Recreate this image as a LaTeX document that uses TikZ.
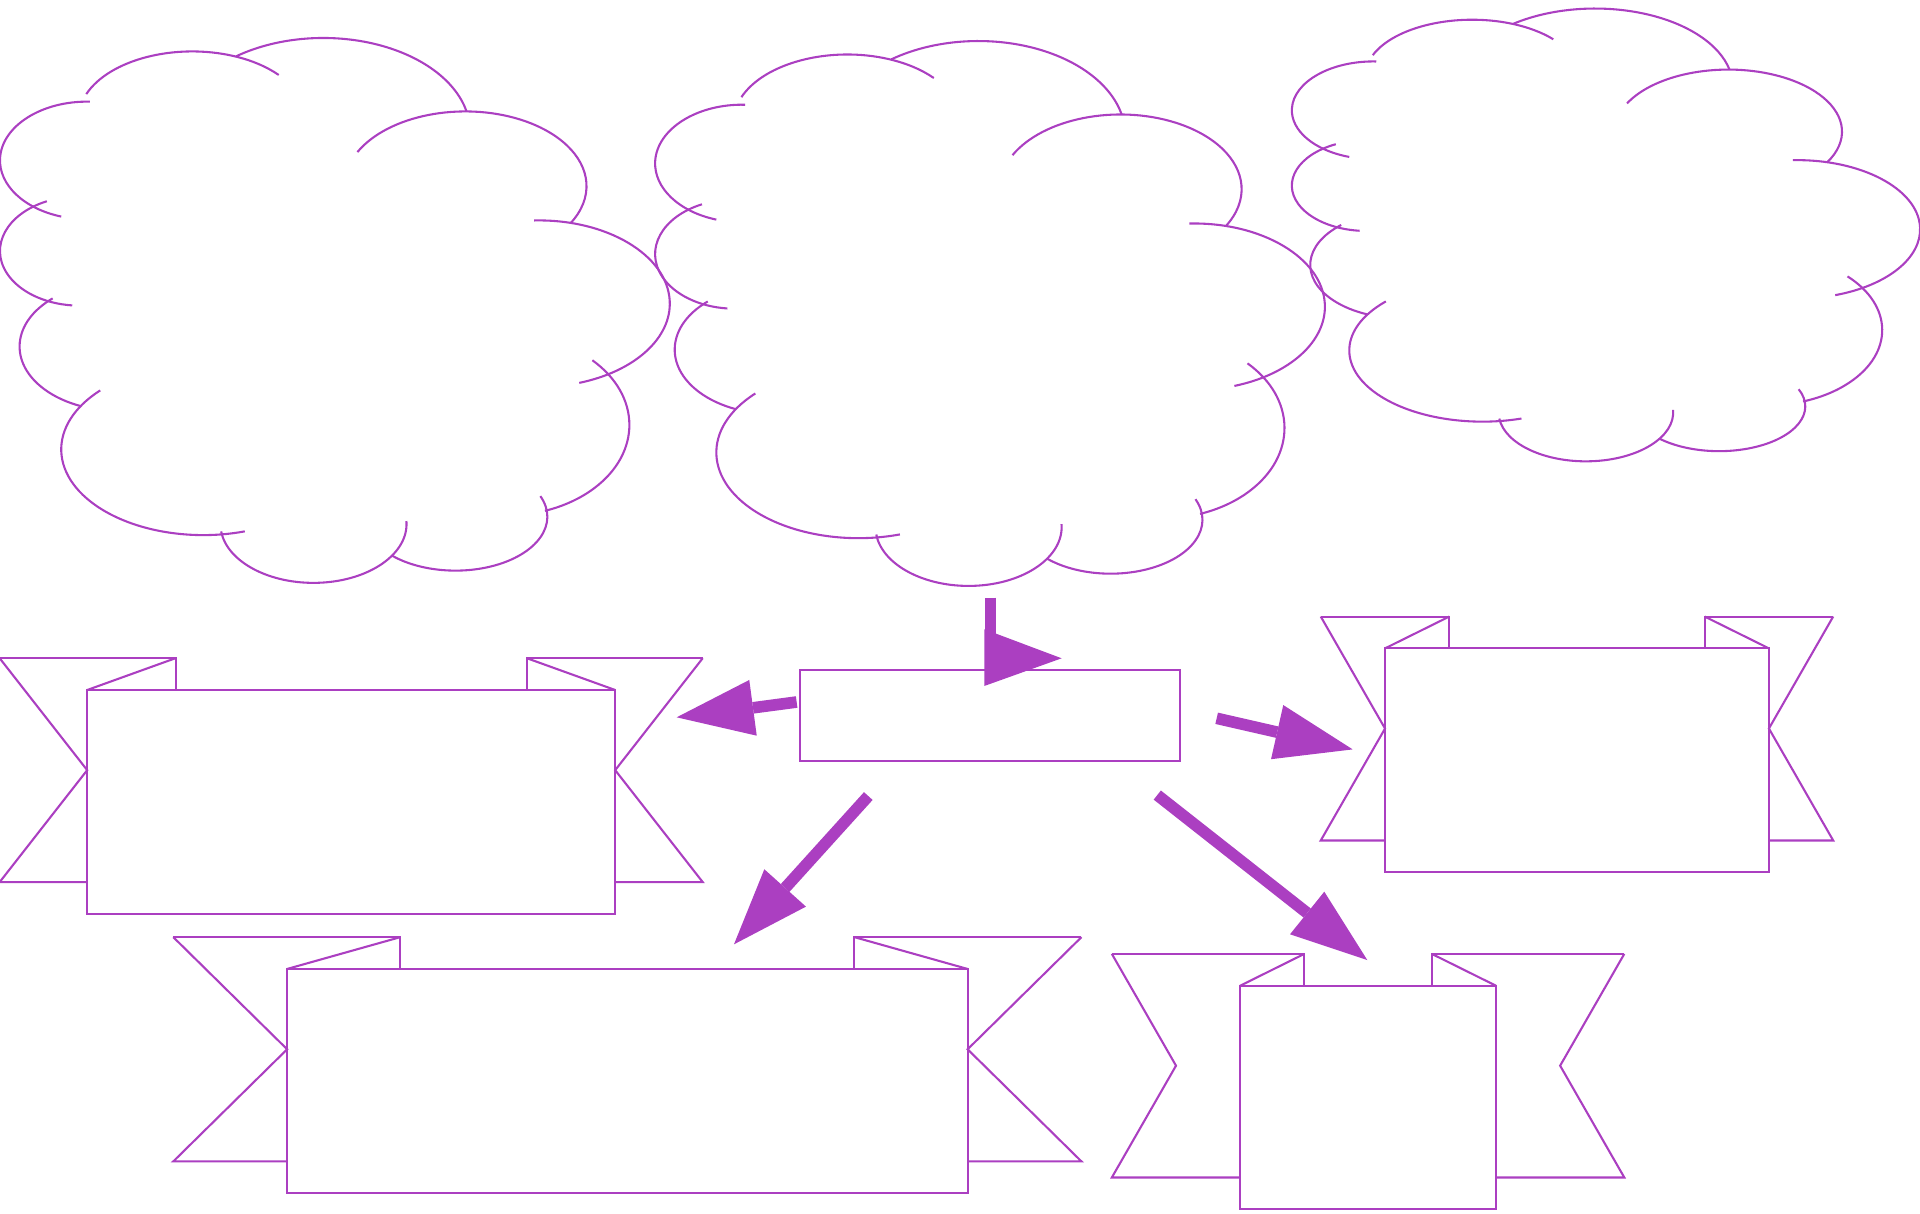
\documentclass[tikz,border=0pt]{standalone}
\definecolor{vio}{RGB}{171,63,193}
\tikzset{
  outl/.style={draw=vio, line width=0.85pt},
  box/.style={draw=vio, line width=0.85pt, rectangle, inner sep=0pt, outer sep=0pt},
  shaft/.style={draw=vio, line width=4.75pt},
  head/.style={fill=vio},
}
\newcommand\puffarc[6]{\draw[outl] (#1,#2) ++(#5:#3 and #4) arc[start angle=#5,end angle=#6,x radius=#3,y radius=#4];}
\newcommand\cloudshape{%
 \puffarc{71}{131}{71}{48}{-88}{-252.8}
 \puffarc{65}{205}{65}{44.6}{245.7}{95.3}
 \puffarc{96}{283}{80}{52.5}{228.5}{112}
 \puffarc{166}{367}{116}{70}{223.5}{73}
 \puffarc{256}{428}{76}{48}{-3}{172.8}
 \puffarc{372}{422}{75}{44}{-22.5}{133.6}
 \puffarc{413}{347}{101}{74}{-45.5}{71.5}
 \puffarc{440}{248}{107}{68}{-92}{72}
 \puffarc{380}{152}{99}{61}{-152.9}{29.8}
 \puffarc{264}{108}{120}{77}{-126.3}{-12.8}
 \puffarc{157}{97}{93}{55}{-158.5}{-40.6}
}
% #1 L, #2 T, #3 R, #4 B, #5 fold width, #6 tail offset, #7 notch depth
\newcommand\ribbonback[7]{%
 \draw[outl] ({#1-#6},{#2-26}) -- ({#1+#5},{#2-26}) -- ({#1+#5},#2);
 \draw[outl] ({#1+#5},{#2-26}) -- (#1,#2);
 \draw[outl] ({#1-#6},{#2-26}) -- ({#1-#6+#7},{(#2+#4)/2-26}) -- ({#1-#6},{#4-26}) -- (#1,{#4-26});
 \draw[outl] ({#3+#6},{#2-26}) -- ({#3-#5},{#2-26}) -- ({#3-#5},#2);
 \draw[outl] ({#3-#5},{#2-26}) -- (#3,#2);
 \draw[outl] ({#3+#6},{#2-26}) -- ({#3+#6-#7},{(#2+#4)/2-26}) -- ({#3+#6},{#4-26}) -- (#3,{#4-26});
}
\begin{document}
\begin{tikzpicture}[x=0.5pt,y=-0.5pt]
\useasboundingbox (0,0) rectangle (1568,991);
% clouds
\begin{scope}\cloudshape\end{scope}
\begin{scope}[shift={(535,2.5)}]\cloudshape\end{scope}
\begin{scope}[shift={(1055,-18.8)},xscale=0.938,yscale=0.831]\cloudshape\end{scope}
\coordinate (cloudB) at (808.9,488.1);
% banners
\ribbonback{71.2}{563.5}{502.4}{746.4}{72.2}{71.5}{71.5}
\ribbonback{1131.1}{529.5}{1444.6}{712.4}{52.5}{52.5}{52.5}
\ribbonback{234.5}{791.3}{790.2}{974.5}{92.5}{93}{93}
\ribbonback{1012.8}{805}{1221.7}{987.6}{52.4}{104.8}{52.4}
\node[box, minimum width=215.6pt, minimum height=91.45pt] (bL) at (286.8,654.95) {};
\node[box, minimum width=156.75pt, minimum height=91.45pt] (bR) at (1287.85,620.95) {};
\node[box, minimum width=277.85pt, minimum height=91.6pt] (bBL) at (512.35,882.9) {};
\node[box, minimum width=104.45pt, minimum height=91.3pt] (bBR) at (1117.25,896.3) {};
\node[box, minimum width=155.2pt, minimum height=37.05pt] (ctr) at (808.5,584.45) {};
% arrows
\coordinate (vB) at (808.9,537);
\draw[shaft] (cloudB) -- (vB);
\fill[head] (803.9,513.9) coordinate (v1) -- (867,537.6) coordinate (v2) -- (803.9,560.2) coordinate (v3) -- cycle;
\coordinate (lS) at (650.6,573.3); \coordinate (lB) at (614.95,578.05);
\draw[shaft] (lS) -- (lB);
\fill[head] (552.6,585.8) coordinate (lT) -- (611.9,555.3) -- (618,600.8) -- cycle;
\coordinate (rS) at (993.6,586.6); \coordinate (rB) at (1043,597.9);
\draw[shaft] (rS) -- (rB);
\fill[head] (1104.7,612) coordinate (rT) -- (1048,575.8) -- (1038,620) -- cycle;
\coordinate (dlS) at (709.1,650.1); \coordinate (dlB) at (641.2,725.15);
\draw[shaft] (dlS) -- (dlB);
\fill[head] (599.4,771.2) coordinate (dlT) -- (624.2,709.9) -- (658.2,740.4) -- cycle;
\coordinate (drS) at (945.1,649.3); \coordinate (drB) at (1067.5,745.6);
\draw[shaft] (drS) -- (drB);
\fill[head] (1116.6,784) coordinate (drT) -- (1081.5,728.2) -- (1053.5,763) -- cycle;
\end{tikzpicture}
\end{document}
